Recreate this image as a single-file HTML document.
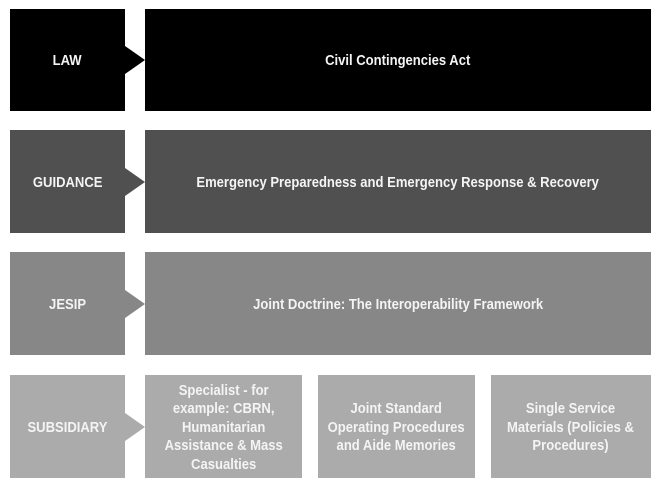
<!DOCTYPE html>
<html><head><style>
body{margin:0;width:660px;height:489px;background:#fff;position:relative;overflow:hidden;font-family:"Liberation Sans",sans-serif;font-weight:bold;color:#f4f4f4;font-size:14.5px}
.b{position:absolute;display:flex;align-items:center;justify-content:center;text-align:center;line-height:18.5px;padding-top:3px;box-sizing:border-box}
.b span{display:inline-block;transform:scaleX(0.9);white-space:nowrap}
svg{position:absolute;left:0;top:0}
</style></head><body>
<div class="b" style="left:10px;top:9px;width:115px;height:102px;background:#000"><span>LAW</span></div>
<div class="b" style="left:145px;top:9px;width:506px;height:102px;background:#000"><span>Civil Contingencies Act</span></div>
<div class="b" style="left:10px;top:130px;width:115px;height:103px;background:#505050"><span>GUIDANCE</span></div>
<div class="b" style="left:145px;top:130px;width:506px;height:103px;background:#505050"><span>Emergency Preparedness and Emergency Response &amp; Recovery</span></div>
<div class="b" style="left:10px;top:252px;width:115px;height:103px;background:#878787"><span>JESIP</span></div>
<div class="b" style="left:145px;top:252px;width:506px;height:103px;background:#878787"><span>Joint Doctrine: The Interoperability Framework</span></div>
<div class="b" style="left:10px;top:375px;width:115px;height:103px;background:#ababab"><span>SUBSIDIARY</span></div>
<div class="b" style="left:145px;top:375px;width:157px;height:103px;background:#ababab"><span>Specialist - for<br>example: CBRN,<br>Humanitarian<br>Assistance &amp; Mass<br>Casualties</span></div>
<div class="b" style="left:318px;top:375px;width:157px;height:103px;background:#ababab"><span>Joint Standard<br>Operating Procedures<br>and Aide Memories</span></div>
<div class="b" style="left:491px;top:375px;width:160px;height:103px;background:#ababab"><span>Single Service<br>Materials (Policies &amp;<br>Procedures)</span></div>
<svg width="660" height="489">
<polygon points="125,46 145,60 125,74" fill="#000"/>
<polygon points="125,168 145,182 125,196" fill="#505050"/>
<polygon points="125,290 145,304 125,318" fill="#878787"/>
<polygon points="125,413 145,427 125,441" fill="#ababab"/>
</svg>
</body></html>
